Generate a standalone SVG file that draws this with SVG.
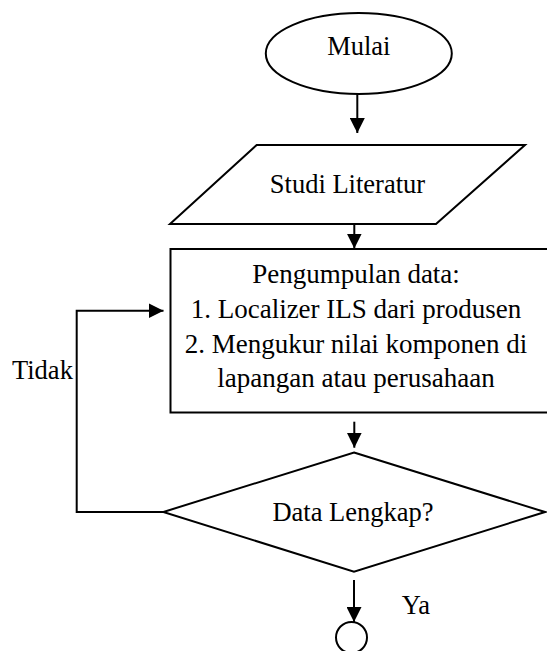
<svg xmlns="http://www.w3.org/2000/svg" width="547" height="651" viewBox="0 0 547 651">
<style>
.s{fill:#fff;stroke:#000;stroke-width:2}
.c{fill:none;stroke:#000;stroke-width:2}
text{font-family:"Liberation Serif","Times New Roman",serif;font-size:26.5px;fill:#000}
.m{text-anchor:middle}
</style>
<defs>
<marker id="ah" markerWidth="15" markerHeight="15" refX="15" refY="7.5" orient="auto" markerUnits="userSpaceOnUse">
<path d="M0,0 L15,7.5 L0,15 Z" fill="#000"/>
</marker>
</defs>
<rect width="547" height="651" fill="#fff"/>
<g id="mulai">
<ellipse class="s" cx="358.8" cy="53.5" rx="93" ry="40.5"/>
<text class="m" x="358.8" y="55">Mulai</text>
</g>
<g id="studi">
<polygon class="s" points="256.7,145 525,145 436,224 170,224"/>
<text class="m" x="347.5" y="193">Studi Literatur</text>
</g>
<g id="pengumpulan">
<rect class="s" x="170.5" y="249" width="380" height="163.5"/>
<text class="m" x="356" y="283" style="font-size:27px">Pengumpulan data:</text>
<text class="m" x="356" y="318" style="font-size:27px">1. Localizer ILS dari produsen</text>
<text class="m" x="356" y="352.5" style="font-size:27px">2. Mengukur nilai komponen di</text>
<text class="m" x="356" y="387" style="font-size:27px">lapangan atau perusahaan</text>
</g>
<g id="cek">
<polygon class="s" points="354,452.5 545,512 354,571.7 163.3,512"/>
<text class="m" x="353" y="521">Data Lengkap?</text>
</g>
<g id="selesai">
<circle class="s" cx="351.5" cy="637.5" r="15.5"/>
</g>
<g id="connectors">
<line class="c" x1="357.3" y1="94" x2="357.3" y2="133" marker-end="url(#ah)"/>
<line class="c" x1="354.3" y1="225" x2="354.3" y2="248.5" marker-end="url(#ah)"/>
<line class="c" x1="354.3" y1="421.7" x2="354.3" y2="447.7" marker-end="url(#ah)"/>
<line class="c" x1="354" y1="580" x2="354" y2="622" marker-end="url(#ah)"/>
<polyline class="c" points="163.3,512 76.7,512 76.7,310.7 163.5,310.7" marker-end="url(#ah)"/>
<text x="12" y="379.3">Tidak</text>
<text x="401.7" y="614">Ya</text>
</g>
</svg>
